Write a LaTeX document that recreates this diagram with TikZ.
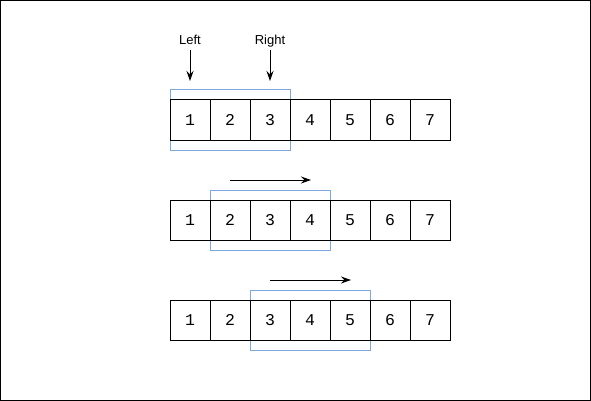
\documentclass[tikz,border=0pt]{standalone}
\usepackage{fontspec}
\setmainfont{Liberation Sans}
\newfontfamily\cellfont{Liberation Mono}
\usetikzlibrary{arrows.meta}
\definecolor{winblue}{HTML}{7EA6E0}
\begin{document}
\begin{tikzpicture}[x=1pt,y=-1pt,
  cellbox/.style={draw=black,line width=1pt,minimum width=40pt,minimum height=40pt,inner sep=0pt,text height=11pt,text depth=0pt,font=\cellfont\fontsize{16.5}{19}\selectfont},
  winbox/.style={draw=winblue,line width=1pt},
  lbl/.style={font=\fontsize{13}{15}\selectfont,inner sep=1pt,text height=9.5pt,text depth=3pt},
  arr/.style={-{Stealth[length=10pt,width=7pt]},line width=1pt}]
\useasboundingbox (0,0) rectangle (591,401);
\draw[line width=1pt] (0.5,0.5) rectangle (590.5,400.5);
% windows
\draw[winbox] (170,90) rectangle (290,150);
\draw[winbox] (210,190) rectangle (330,250);
\draw[winbox] (250,290) rectangle (370,350);
% cells
\foreach \r/\y in {1/120,2/220,3/320}{
  \foreach \i in {1,...,7}{
    \node[cellbox] (c\r-\i) at ({150+40*\i},\y) {\i};
  }
}
% labels
\node[lbl] (left) at (190,41) {Left};
\node[lbl] (right) at (270,41) {Right};
\coordinate (lefttip) at (190,81);
\coordinate (righttip) at (270,81);
\draw[arr] (left.south) ++(0,2) -- (lefttip);
\draw[arr] (right.south) ++(0,2) -- (righttip);
% moves
\coordinate (m2s) at (230,180);
\coordinate (m2e) at (311,180);
\coordinate (m3s) at (270,280);
\coordinate (m3e) at (351,280);
\draw[arr] (m2s) -- (m2e);
\draw[arr] (m3s) -- (m3e);
\end{tikzpicture}
\end{document}
